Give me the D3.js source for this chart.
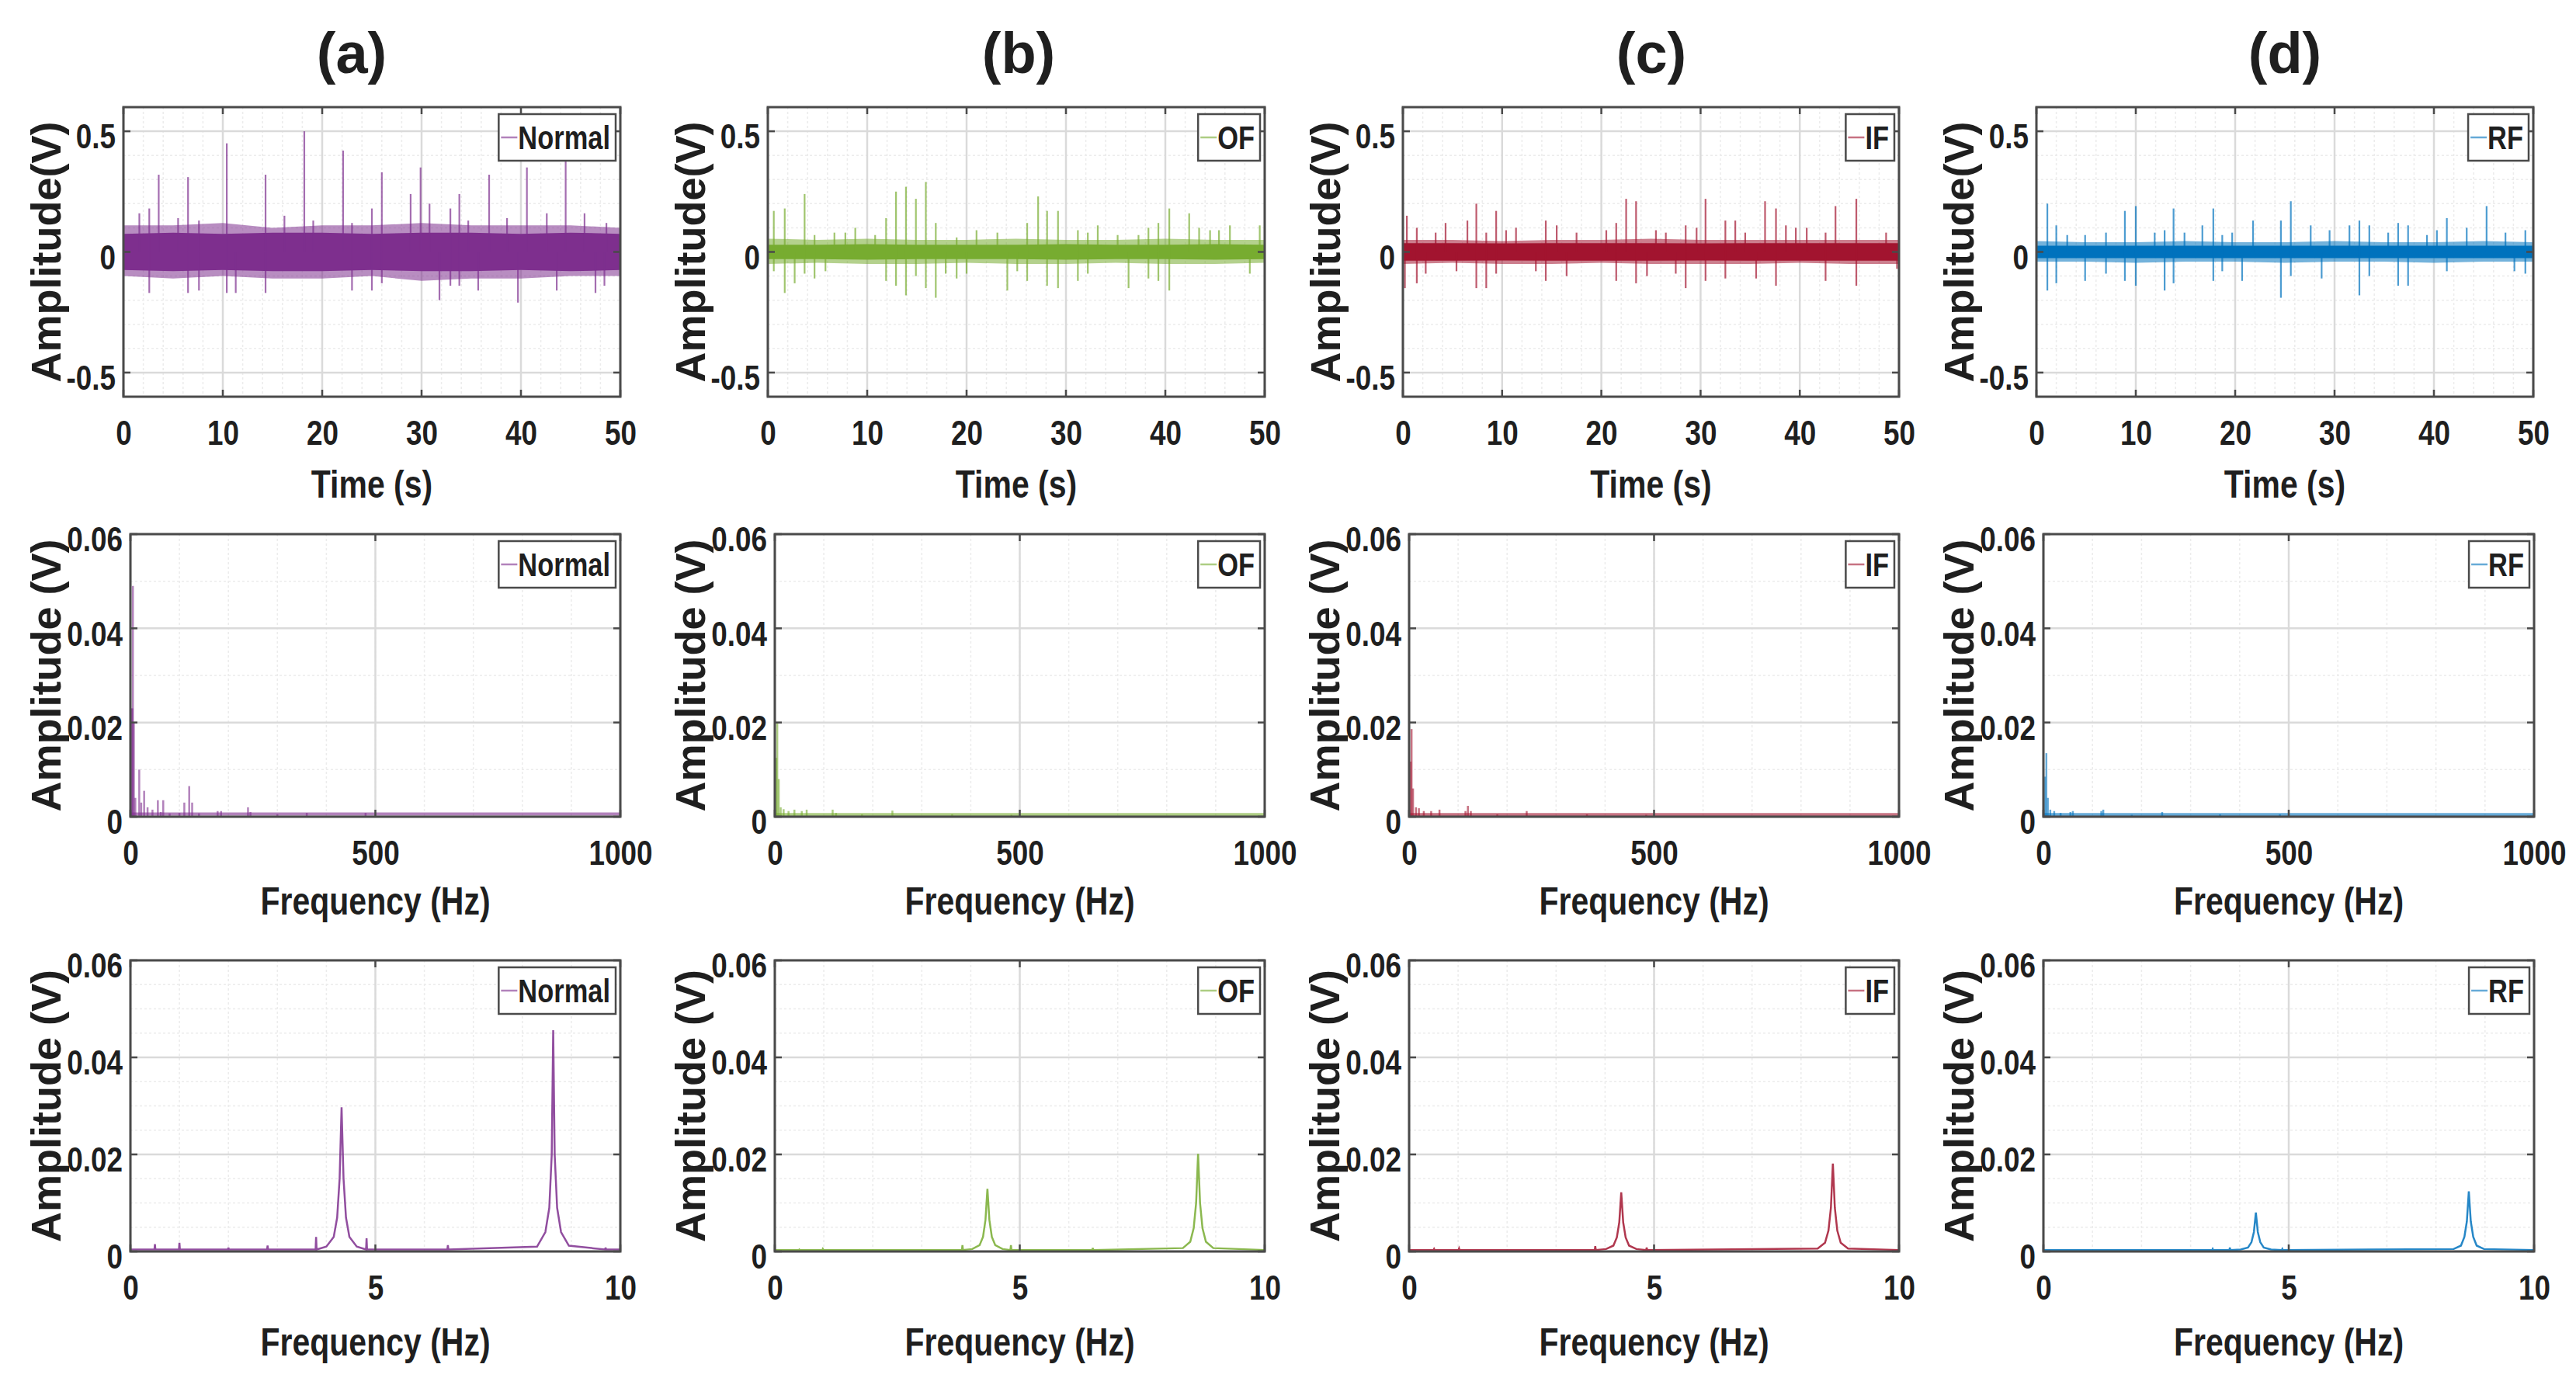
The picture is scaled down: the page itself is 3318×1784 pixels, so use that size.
<!DOCTYPE html>
<html>
<head>
<meta charset="utf-8">
<script src="https://cdn.jsdelivr.net/npm/d3@7"></script>
<style>
  body { margin: 0; background: #fff; }
  text { font-family: "Liberation Sans", Arial, sans-serif; font-weight: bold; fill: #1f1f1f; }
</style>
</head>
<body>
<script>
// ---- data ----
var faults = ['Normal', 'OF', 'IF', 'RF'];
var panelTitles = ['(a)', '(b)', '(c)', '(d)'];

var timeXTicks = [0, 10, 20, 30, 40, 50];
var timeYTicks = [-0.5, 0, 0.5];
var specXTicks = [0, 500, 1000];
var envXTicks = [0, 5, 10];
var ampTicks = [0, 0.02, 0.04, 0.06];

// noise band of the time signals, read every 5 s
var bandT = [0, 5, 10, 15, 20, 25, 30, 35, 40, 45, 50];
var normalHi = [0.11, 0.11, 0.12, 0.10, 0.11, 0.11, 0.12, 0.11, 0.11, 0.11, 0.10];
var normalLo = [-0.10, -0.11, -0.10, -0.11, -0.11, -0.10, -0.12, -0.11, -0.11, -0.10, -0.10];
var normalCore = [0.075, 0.08, 0.075, 0.08, 0.08, 0.075, 0.08, 0.08, 0.075, 0.08, 0.075];
var ofHi = [0.055, 0.05, 0.055, 0.05, 0.05, 0.055, 0.05, 0.05, 0.055, 0.05, 0.05];
var ofLo = [-0.05, -0.045, -0.05, -0.05, -0.045, -0.05, -0.05, -0.045, -0.05, -0.05, -0.045];
var ofCore = [0.03, 0.03, 0.032, 0.03, 0.03, 0.03, 0.032, 0.03, 0.03, 0.032, 0.03];
var ifHi = [0.05, 0.05, 0.045, 0.05, 0.05, 0.055, 0.05, 0.05, 0.05, 0.05, 0.05];
var ifLo = [-0.05, -0.045, -0.05, -0.05, -0.045, -0.05, -0.05, -0.05, -0.045, -0.05, -0.05];
var ifCore = [0.036, 0.036, 0.035, 0.036, 0.036, 0.036, 0.035, 0.036, 0.036, 0.036, 0.036];
var rfHi = [0.045, 0.04, 0.04, 0.045, 0.04, 0.04, 0.045, 0.04, 0.04, 0.045, 0.04];
var rfLo = [-0.04, -0.04, -0.045, -0.04, -0.04, -0.045, -0.04, -0.04, -0.045, -0.04, -0.04];
var rfCore = [0.026, 0.026, 0.026, 0.026, 0.026, 0.026, 0.026, 0.026, 0.026, 0.026, 0.026];

// impulses sticking out of the band: [time s, amplitude V]
var normalSpikes = [
  [1.6, 0.16], [2.6, 0.18], [3.55, 0.32], [5.5, 0.14], [6.5, 0.31], [7.6, 0.13], [10.4, 0.45],
  [14.3, 0.32], [16.2, 0.15], [18.2, 0.50], [19.1, 0.13], [22.1, 0.42], [23.0, 0.12], [25.0, 0.18],
  [26.0, 0.33], [28.9, 0.24], [29.9, 0.35], [30.8, 0.20], [32.9, 0.18], [33.8, 0.24], [34.7, 0.13],
  [36.8, 0.32], [38.6, 0.14], [40.6, 0.35], [42.6, 0.16], [44.5, 0.38], [46.4, 0.16], [48.6, 0.12],
  [2.6, -0.17], [6.5, -0.17], [7.6, -0.16], [10.4, -0.17], [11.3, -0.17], [14.3, -0.17], [23.0, -0.16],
  [25.0, -0.16], [26.0, -0.13], [31.8, -0.20], [32.9, -0.14], [33.8, -0.14], [35.7, -0.16],
  [39.7, -0.21], [43.6, -0.16], [47.5, -0.17], [48.4, -0.14]
];
var ofSpikes = [
  [0.6, 0.17], [1.7, 0.18], [3.7, 0.24], [4.7, 0.07], [6.7, 0.08], [7.8, 0.08], [8.8, 0.10], [10.8, 0.07],
  [11.9, 0.14], [12.9, 0.25], [13.9, 0.27], [14.9, 0.22], [15.9, 0.29], [16.9, 0.12], [19.0, 0.06],
  [21.0, 0.09], [23.1, 0.08], [26.1, 0.12], [27.2, 0.23], [28.1, 0.17], [29.2, 0.17], [31.2, 0.09],
  [32.2, 0.08], [33.2, 0.11], [35.2, 0.07], [37.3, 0.07], [38.3, 0.10], [39.3, 0.12], [40.4, 0.18],
  [42.4, 0.16], [43.4, 0.10], [44.5, 0.09], [45.4, 0.09], [46.5, 0.11], [49.5, 0.11],
  [0.6, -0.08], [1.7, -0.17], [2.7, -0.13], [3.7, -0.09], [4.7, -0.11], [5.8, -0.08], [11.9, -0.12],
  [12.9, -0.14], [13.9, -0.18], [14.9, -0.10], [15.9, -0.15], [16.9, -0.19], [17.9, -0.09], [19.0, -0.11],
  [20.0, -0.09], [24.1, -0.16], [25.1, -0.08], [26.1, -0.12], [28.1, -0.14], [29.2, -0.15], [31.2, -0.12],
  [32.2, -0.09], [36.3, -0.15], [38.3, -0.11], [39.3, -0.12], [40.4, -0.16], [48.5, -0.09]
];
var ifSpikes = [
  [0.4, 0.15], [1.4, 0.10], [3.3, 0.08], [4.3, 0.12], [6.5, 0.13], [7.4, 0.20], [8.4, 0.08], [9.4, 0.17],
  [10.4, 0.09], [11.4, 0.10], [14.4, 0.13], [15.5, 0.11], [17.5, 0.08], [20.5, 0.09], [21.5, 0.12],
  [22.5, 0.22], [23.5, 0.21], [25.5, 0.09], [26.5, 0.08], [28.5, 0.11], [29.6, 0.10], [30.5, 0.22],
  [32.5, 0.13], [33.5, 0.13], [34.5, 0.08], [36.5, 0.21], [37.6, 0.18], [38.6, 0.11], [39.6, 0.10],
  [40.7, 0.10], [42.6, 0.08], [43.6, 0.19], [45.7, 0.22], [48.7, 0.08],
  [0.2, -0.15], [1.4, -0.13], [2.3, -0.09], [5.4, -0.08], [7.4, -0.15], [8.4, -0.15], [9.4, -0.09],
  [13.4, -0.08], [14.4, -0.12], [16.5, -0.10], [21.5, -0.12], [23.5, -0.13], [24.6, -0.10], [27.5, -0.09],
  [28.5, -0.15], [30.5, -0.12], [32.5, -0.11], [35.6, -0.11], [37.6, -0.14], [42.6, -0.12], [45.7, -0.14],
  [49.8, -0.07]
];
var rfSpikes = [
  [1.1, 0.20], [2.0, 0.11], [3.1, 0.07], [4.9, 0.07], [7.0, 0.08], [8.9, 0.17], [10.0, 0.19], [11.9, 0.08],
  [12.9, 0.09], [13.8, 0.18], [14.9, 0.08], [16.7, 0.11], [17.8, 0.18], [18.7, 0.07], [19.7, 0.08],
  [21.8, 0.13], [24.6, 0.13], [25.6, 0.21], [27.6, 0.11], [29.5, 0.09], [31.5, 0.11], [32.5, 0.13],
  [33.5, 0.11], [35.4, 0.08], [36.4, 0.12], [37.4, 0.11], [39.3, 0.07], [40.3, 0.09], [41.3, 0.14],
  [43.3, 0.10], [45.3, 0.19], [47.2, 0.08], [49.2, 0.09],
  [1.1, -0.16], [2.0, -0.13], [4.9, -0.12], [7.0, -0.09], [8.9, -0.12], [10.0, -0.14], [12.9, -0.16],
  [13.8, -0.13], [17.8, -0.12], [18.7, -0.08], [20.7, -0.12], [24.6, -0.19], [25.6, -0.10], [28.7, -0.11],
  [32.5, -0.18], [33.5, -0.10], [36.4, -0.14], [37.4, -0.14], [41.3, -0.08], [48.1, -0.08], [49.2, -0.09]
];

// spectrum 0-1000 Hz: [frequency Hz, amplitude V]
var normalSpec = [
  [2, 0.023], [4, 0.023], [5, 0.049], [7, 0.02], [10, 0.004], [18, 0.010], [22, 0.003], [28, 0.0055],
  [35, 0.002], [45, 0.0015], [56, 0.0035], [62, 0.001], [67, 0.0035], [80, 0.0007], [100, 0.0008],
  [110, 0.003], [120, 0.0065], [126, 0.003], [140, 0.0007], [178, 0.0012], [185, 0.0012], [240, 0.002],
  [245, 0.001], [300, 0.0005], [360, 0.0008], [480, 0.0008]
];
var ofSpec = [
  [3, 0.0125], [5, 0.020], [8, 0.008], [12, 0.002], [18, 0.0016], [28, 0.0012], [40, 0.0015], [55, 0.0012],
  [65, 0.0015], [118, 0.0015], [125, 0.0008], [178, 0.0005], [240, 0.0013], [362, 0.0005], [483, 0.0004]
];
var ifSpec = [
  [3, 0.0117], [5, 0.0186], [8, 0.006], [14, 0.002], [20, 0.0018], [30, 0.0012], [45, 0.0012], [62, 0.0015],
  [115, 0.0012], [120, 0.0023], [126, 0.0012], [180, 0.0005], [240, 0.0012], [363, 0.0005], [484, 0.0004]
];
var rfSpec = [
  [3, 0.0085], [6, 0.0135], [9, 0.004], [14, 0.0015], [22, 0.0012], [35, 0.0008], [55, 0.001], [60, 0.0012],
  [118, 0.0012], [122, 0.0015], [180, 0.0004], [242, 0.001], [360, 0.0005], [482, 0.0005]
];
var specFloor = [0.0004, 0.0003, 0.0003, 0.0003];

// envelope spectrum 0-10 Hz: [frequency Hz, amplitude V]
var normalEnv = [
  [0, 0.0004], [0.49, 0.0004], [0.5, 0.0015], [0.51, 0.0004], [0.99, 0.0004], [1.0, 0.0018], [1.01, 0.0004],
  [1.99, 0.0004], [2.0, 0.0008], [2.01, 0.0004], [2.79, 0.0004], [2.8, 0.0012], [2.81, 0.0004],
  [3.78, 0.0004], [3.79, 0.003], [3.8, 0.0004], [4.0, 0.001], [4.15, 0.003], [4.22, 0.007], [4.27, 0.015],
  [4.31, 0.0297], [4.35, 0.015], [4.40, 0.007], [4.47, 0.003], [4.62, 0.001], [4.81, 0.0004], [4.82, 0.0027],
  [4.83, 0.0004], [6.47, 0.0004], [6.48, 0.0013], [6.49, 0.0004], [8.3, 0.001], [8.47, 0.004], [8.55, 0.009],
  [8.6, 0.02], [8.63, 0.0456], [8.66, 0.02], [8.71, 0.009], [8.79, 0.004], [8.95, 0.0012], [9.69, 0.0004],
  [9.7, 0.0008], [9.71, 0.0004], [10, 0.0004]
];
var ofEnv = [
  [0, 0.0003], [0.49, 0.0003], [0.5, 0.0004], [0.51, 0.0003], [0.97, 0.0003], [0.98, 0.0005], [0.99, 0.0003],
  [3.82, 0.0003], [3.83, 0.0013], [3.84, 0.0003], [4.03, 0.0005], [4.18, 0.0013], [4.25, 0.003], [4.30, 0.0065],
  [4.34, 0.0129], [4.38, 0.0065], [4.43, 0.003], [4.50, 0.0013], [4.65, 0.0005], [4.81, 0.0003], [4.82, 0.0013],
  [4.83, 0.0003], [6.48, 0.0003], [6.49, 0.0007], [6.5, 0.0003], [8.33, 0.0007], [8.48, 0.002], [8.55, 0.0048],
  [8.60, 0.010], [8.64, 0.0201], [8.68, 0.010], [8.73, 0.0048], [8.80, 0.002], [8.95, 0.0007], [10, 0.0003]
];
var ifEnv = [
  [0, 0.0003], [0.5, 0.0003], [0.51, 0.0005], [0.52, 0.0003], [1.01, 0.0003], [1.02, 0.0006], [1.03, 0.0003],
  [3.79, 0.0003], [3.8, 0.0011], [3.81, 0.0003], [4.02, 0.0005], [4.17, 0.0012], [4.24, 0.0029], [4.29, 0.006],
  [4.33, 0.0122], [4.37, 0.006], [4.42, 0.0029], [4.49, 0.0012], [4.64, 0.0005], [4.84, 0.0003], [4.85, 0.0008],
  [4.86, 0.0003], [8.34, 0.0006], [8.49, 0.0018], [8.56, 0.0043], [8.61, 0.009], [8.65, 0.0181], [8.69, 0.009],
  [8.74, 0.0043], [8.81, 0.0018], [8.96, 0.0006], [10, 0.0003]
];
var rfEnv = [
  [0, 0.0003], [3.44, 0.0003], [3.45, 0.0005], [3.46, 0.0003], [3.79, 0.0003], [3.8, 0.0008], [3.81, 0.0003],
  [4.02, 0.0004], [4.17, 0.0008], [4.24, 0.0019], [4.29, 0.004], [4.33, 0.008], [4.37, 0.004], [4.42, 0.0019],
  [4.49, 0.0008], [4.64, 0.0004], [4.86, 0.0003], [4.87, 0.0005], [4.88, 0.0003], [8.36, 0.0005], [8.51, 0.0012],
  [8.58, 0.003], [8.63, 0.0062], [8.67, 0.0124], [8.71, 0.0062], [8.76, 0.003], [8.83, 0.0012], [8.98, 0.0005],
  [10, 0.0003]
];

// ---- look ----
var colors = ['#7E2F8E', '#77AC30', '#A2142F', '#0072BD'];
var bands = [
  { hi: normalHi, lo: normalLo, core: normalCore },
  { hi: ofHi, lo: ofLo, core: ofCore },
  { hi: ifHi, lo: ifLo, core: ifCore },
  { hi: rfHi, lo: rfLo, core: rfCore }
];
var spikes = [normalSpikes, ofSpikes, ifSpikes, rfSpikes];
var specs = [normalSpec, ofSpec, ifSpec, rfSpec];
var envs = [normalEnv, ofEnv, ifEnv, rfEnv];

var rows = [
  { top: 138, bottom: 511, left: [159, 989, 1807, 2623], right: [799, 1629, 2446, 3263], labDy: 130, ylabDx: 81 },
  { top: 688, bottom: 1052, left: [168, 998, 1815, 2632], right: [799, 1629, 2446, 3264], labDy: 126, ylabDx: 90 },
  { top: 1237, bottom: 1612, left: [168, 998, 1815, 2632], right: [799, 1629, 2446, 3264], labDy: 134, ylabDx: 90 }
];
var titleX = [453, 1312, 2127, 2943];
var squeeze = 0.82;   // the figure's text is horizontally condensed

var svg = d3.select('body').append('svg')
  .attr('width', 3318)
  .attr('height', 1784)
  .style('background', '#fff');

// condense a text horizontally around its own anchor point
function narrow(sel) {
  sel.each(function() {
    var t = d3.select(this);
    var x = +t.attr('x') || 0, y = +t.attr('y') || 0;
    t.attr('x', null).attr('y', null)
      .attr('transform', 'translate(' + x + ',' + y + ') scale(' + squeeze + ',1)');
  });
}

panelTitles.forEach(function(t, i) {
  svg.append('text')
    .attr('x', titleX[i]).attr('y', 94)
    .attr('text-anchor', 'middle')
    .style('font-size', '74px')
    .text(t);
});

function fmt(d) { return String(d); }

function drawFrame(g, x, y, w, h, opt) {
  // minor grid
  g.append('g').selectAll('line').data(opt.xMinor).join('line')
    .attr('x1', function(d) { return x(d); }).attr('x2', function(d) { return x(d); })
    .attr('y1', 0).attr('y2', h)
    .attr('stroke', '#ececec').attr('stroke-width', 1.5).attr('stroke-dasharray', '3,3');
  g.append('g').selectAll('line').data(opt.yMinor).join('line')
    .attr('y1', function(d) { return y(d); }).attr('y2', function(d) { return y(d); })
    .attr('x1', 0).attr('x2', w)
    .attr('stroke', '#ececec').attr('stroke-width', 1.5).attr('stroke-dasharray', '3,3');
  // major grid
  g.append('g').selectAll('line').data(opt.xTicks).join('line')
    .attr('x1', function(d) { return x(d); }).attr('x2', function(d) { return x(d); })
    .attr('y1', 0).attr('y2', h)
    .attr('stroke', '#dadada').attr('stroke-width', 2.5);
  g.append('g').selectAll('line').data(opt.yTicks).join('line')
    .attr('y1', function(d) { return y(d); }).attr('y2', function(d) { return y(d); })
    .attr('x1', 0).attr('x2', w)
    .attr('stroke', '#dadada').attr('stroke-width', 2.5);
}

function drawBox(g, x, y, w, h, opt) {
  var tk = 9;
  var t = g.append('g').attr('stroke', '#4a4a4a').attr('stroke-width', 2.5);
  opt.xTicks.forEach(function(d) {
    t.append('line').attr('x1', x(d)).attr('x2', x(d)).attr('y1', h).attr('y2', h - tk);
    t.append('line').attr('x1', x(d)).attr('x2', x(d)).attr('y1', 0).attr('y2', tk);
  });
  opt.yTicks.forEach(function(d) {
    t.append('line').attr('y1', y(d)).attr('y2', y(d)).attr('x1', 0).attr('x2', tk);
    t.append('line').attr('y1', y(d)).attr('y2', y(d)).attr('x1', w).attr('x2', w - tk);
  });
  g.append('rect').attr('width', w).attr('height', h)
    .attr('fill', 'none').attr('stroke', '#4a4a4a').attr('stroke-width', 3);

  var xa = g.append('g').attr('transform', 'translate(0,' + h + ')')
    .call(d3.axisBottom(x).tickValues(opt.xTicks).tickFormat(fmt).tickSize(0))
    .attr('font-size', null).attr('font-family', null);
  xa.select('.domain').remove();
  xa.selectAll('text').attr('y', 46).attr('dy', '0.35em').style('font-size', '45px').call(narrow);

  var ya = g.append('g')
    .call(d3.axisLeft(y).tickValues(opt.yTicks).tickFormat(fmt).tickSize(0))
    .attr('font-size', null).attr('font-family', null);
  ya.select('.domain').remove();
  ya.selectAll('text').attr('x', -10).attr('y', 6).attr('dy', '0.35em').style('font-size', '45px').call(narrow);

  g.append('text')
    .attr('x', w / 2).attr('y', h + opt.labDy)
    .attr('text-anchor', 'middle')
    .style('font-size', '50px')
    .text(opt.xLabel)
    .call(narrow);

  g.append('text')
    .attr('transform', 'translate(' + (-opt.ylabDx) + ',' + (h / 2) + ') rotate(-90)')
    .attr('text-anchor', 'middle')
    .style('font-size', '54px')
    .text(opt.yLabel);

  // legend
  var lg = g.append('g');
  var rect = lg.append('rect');
  var txt = lg.append('text').attr('x', 25).attr('y', 45).style('font-size', '42px').text(opt.name);
  var bw = 25 + txt.node().getComputedTextLength() * squeeze + 7, bh = 60;
  txt.call(narrow);
  rect.attr('width', bw).attr('height', bh).attr('fill', '#fff').attr('stroke', '#4a4a4a').attr('stroke-width', 2.5);
  lg.append('line').attr('x1', 3).attr('x2', 24).attr('y1', 30).attr('y2', 30)
    .attr('stroke', opt.color).attr('stroke-width', 2.5).attr('stroke-opacity', 0.6);
  lg.attr('transform', 'translate(' + (w - 6 - bw) + ',9)');
}

faults.forEach(function(name, c) {
  var color = colors[c];

  // ---- row 1: time signal ----
  (function() {
    var r = rows[0], w = r.right[c] - r.left[c], h = r.bottom - r.top;
    var g = svg.append('g').attr('transform', 'translate(' + r.left[c] + ',' + r.top + ')');
    var x = d3.scaleLinear().domain([0, 50]).range([0, w]);
    var y = d3.scaleLinear().domain([-0.6, 0.6]).range([h, 0]);
    var opt = { xTicks: timeXTicks, yTicks: timeYTicks, xMinor: d3.range(0, 50.1, 2), yMinor: d3.range(-0.6, 0.61, 0.1),
      xLabel: 'Time (s)', yLabel: 'Amplitude(V)', labDy: r.labDy, ylabDx: r.ylabDx, name: name, color: color };
    drawFrame(g, x, y, w, h, opt);
    var b = bands[c];
    var pts = bandT.map(function(t, i) { return { t: t, hi: b.hi[i], lo: b.lo[i], core: b.core[i] }; });
    g.append('path').datum(pts)
      .attr('d', d3.area().x(function(d) { return x(d.t); }).y0(function(d) { return y(d.lo); }).y1(function(d) { return y(d.hi); }))
      .attr('fill', color).attr('fill-opacity', 0.55);
    g.append('path').datum(pts)
      .attr('d', d3.area().x(function(d) { return x(d.t); }).y0(function(d) { return y(-d.core); }).y1(function(d) { return y(d.core); }))
      .attr('fill', color);
    g.append('g').selectAll('line').data(spikes[c]).join('line')
      .attr('x1', function(d) { return x(d[0]); }).attr('x2', function(d) { return x(d[0]); })
      .attr('y1', y(0)).attr('y2', function(d) { return y(d[1]); })
      .attr('stroke', color).attr('stroke-width', 2.2).attr('stroke-opacity', 0.7);
    drawBox(g, x, y, w, h, opt);
  })();

  // ---- row 2: spectrum 0-1000 Hz ----
  (function() {
    var r = rows[1], w = r.right[c] - r.left[c], h = r.bottom - r.top;
    var g = svg.append('g').attr('transform', 'translate(' + r.left[c] + ',' + r.top + ')');
    var x = d3.scaleLinear().domain([0, 1000]).range([0, w]);
    var y = d3.scaleLinear().domain([0, 0.06]).range([h, 0]);
    var opt = { xTicks: specXTicks, yTicks: ampTicks, xMinor: d3.range(0, 1001, 100), yMinor: [0.01, 0.03, 0.05],
      xLabel: 'Frequency (Hz)', yLabel: 'Amplitude (V)', labDy: r.labDy, ylabDx: r.ylabDx, name: name, color: color };
    drawFrame(g, x, y, w, h, opt);
    g.append('line').attr('x1', x(0)).attr('x2', x(1000))
      .attr('y1', y(specFloor[c]) - 1).attr('y2', y(specFloor[c]) - 1)
      .attr('stroke', color).attr('stroke-width', 4).attr('stroke-opacity', 0.6);
    g.append('g').selectAll('line').data(specs[c]).join('line')
      .attr('x1', function(d) { return x(d[0]); }).attr('x2', function(d) { return x(d[0]); })
      .attr('y1', y(0)).attr('y2', function(d) { return y(d[1]); })
      .attr('stroke', color).attr('stroke-width', 2.5).attr('stroke-opacity', 0.6);
    drawBox(g, x, y, w, h, opt);
  })();

  // ---- row 3: envelope spectrum 0-10 Hz ----
  (function() {
    var r = rows[2], w = r.right[c] - r.left[c], h = r.bottom - r.top;
    var g = svg.append('g').attr('transform', 'translate(' + r.left[c] + ',' + r.top + ')');
    var x = d3.scaleLinear().domain([0, 10]).range([0, w]);
    var y = d3.scaleLinear().domain([0, 0.06]).range([h, 0]);
    var opt = { xTicks: envXTicks, yTicks: ampTicks, xMinor: d3.range(0, 10.1, 1), yMinor: d3.range(0, 0.0601, 0.005),
      xLabel: 'Frequency (Hz)', yLabel: 'Amplitude (V)', labDy: r.labDy, ylabDx: r.ylabDx, name: name, color: color };
    drawFrame(g, x, y, w, h, opt);
    g.append('path').datum(envs[c])
      .attr('d', d3.line().x(function(d) { return x(d[0]); }).y(function(d) { return y(d[1]); }))
      .attr('fill', 'none').attr('stroke', color).attr('stroke-width', 2.5).attr('stroke-opacity', 0.85);
    drawBox(g, x, y, w, h, opt);
  })();
});
</script>
</body>
</html>
